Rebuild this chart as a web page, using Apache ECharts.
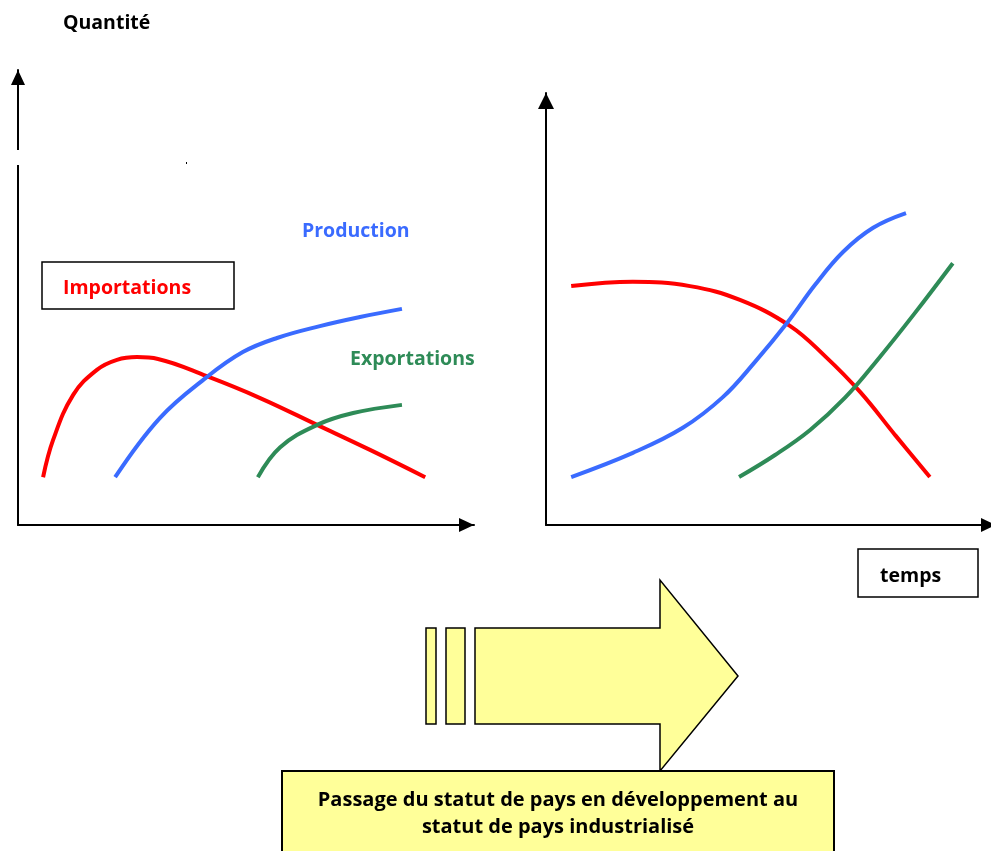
<!DOCTYPE html>
<html>
<head>
    <meta charset="utf-8">
    <script src="https://cdn.jsdelivr.net/npm/echarts@6/dist/echarts.min.js"></script>
    <style>
        html, body { margin: 0; padding: 0; background: #fff; }
        #main { width: 991px; height: 851px; }
    </style>
</head>
<body>
<div id="main"></div>
<script type="text/javascript">
    // panneau gauche : pays en développement  [temps, quantité]
    var importLeft = [[5.5,10.5],[7.7,18.7],[12.1,28.6],[17.3,34.1],[21.7,36.3],[26.1,36.9],[30.7,36.5],
        [41.4,32.7],[53.1,27.9],[65.6,22.0],[77.2,16.5],[89.3,10.5]];
    var prodLeft = [[21.3,10.5],[31.1,23.5],[41.4,32.5],[49.3,38.0],[56.8,41.1],[66.2,43.7],[75.0,45.7],[84.2,47.5]];
    var exportLeft = [[52.6,10.5],[57.5,17.1],[65.6,22.0],[73.5,24.6],[84.2,26.4]];

    // panneau droit : pays industrialisé
    var importRight = [[5.6,55.3],[19.3,56.3],[32.0,55.3],[43.1,52.1],[54.2,46.1],[62.0,39.1],[69.8,30.8],
        [77.6,20.8],[85.3,11.1]];
    var prodRight = [[5.6,11.1],[19.3,16.7],[30.4,22.5],[39.3,29.6],[46.4,37.7],[53.6,46.8],[59.8,55.6],
        [66.0,63.2],[72.7,68.8],[80.0,72.2]];
    var exportRight = [[42.9,11.1],[50.9,16.2],[58.7,22.0],[66.4,29.4],[74.2,38.9],[82.0,49.1],[90.4,60.6]];

    var seriesNames = ['Importations', 'Production', 'Exportations'];
    var colors = ['#ff0000', '#3a6bff', '#2e8b57'];

    var FONT = '"Open Sans", sans-serif';
    var YELLOW = '#ffff99';

    function axis(idx, arrowSize) {
        return {
            type: 'value', gridIndex: idx, min: 0, max: 100,
            axisLine: { show: true, onZero: false, symbol: ['none', 'triangle'], symbolSize: arrowSize,
                symbolOffset: [0, -arrowSize[1] / 2],
                lineStyle: { color: '#000', width: 2 } },
            axisTick: { show: false }, axisLabel: { show: false }, splitLine: { show: false }
        };
    }

    function line(name, data, color, g) {
        return {
            name: name, type: 'line', xAxisIndex: g, yAxisIndex: g,
            data: data, smooth: 0.4, showSymbol: false, silent: true,
            lineStyle: { color: color, width: 4 }
        };
    }

    function label(text, x, y, size, color) {
        return { type: 'text', x: x, y: y, style: { text: text, font: 'bold ' + size + 'px ' + FONT,
            fill: color, verticalAlign: 'middle' } };
    }

    var myChart = echarts.init(document.getElementById('main'));
    var option = {
        animation: false,
        backgroundColor: '#fff',
        grid: [
            { left: 18, top: 70, width: 456, height: 455, outerBoundsMode: 'none' },
            { left: 546, top: 93, width: 450, height: 432, outerBoundsMode: 'none' }
        ],
        xAxis: [axis(0, [14, 15]), axis(1, [14, 15])],
        yAxis: [axis(0, [14, 15]), axis(1, [16, 16])],
        series: [
            line(seriesNames[0], importLeft, colors[0], 0),
            line(seriesNames[1], prodLeft, colors[1], 0),
            line(seriesNames[2], exportLeft, colors[2], 0),
            line(seriesNames[0], importRight, colors[0], 1),
            line(seriesNames[1], prodRight, colors[1], 1),
            line(seriesNames[2], exportRight, colors[2], 1)
        ],
        graphic: [
            // trou dans l'axe vertical gauche
            { type: 'rect', shape: { x: 12, y: 150, width: 12, height: 15 }, style: { fill: '#fff' }, z: 100 },
            { type: 'rect', shape: { x: 186, y: 162, width: 1, height: 2 }, style: { fill: '#000' } },
            label('Quantité', 63, 23, 19.5, '#000'),
            { type: 'rect', shape: { x: 42, y: 262, width: 192, height: 47 },
                style: { fill: '#fff', stroke: '#000', lineWidth: 1.5 } },
            label('Importations', 63, 288, 19.5, colors[0]),
            label('Production', 302, 231, 19.5, colors[1]),
            label('Exportations', 350, 359, 19.5, colors[2]),
            { type: 'rect', shape: { x: 858, y: 549, width: 120, height: 48 },
                style: { fill: '#fff', stroke: '#000', lineWidth: 1.5 } },
            label('temps', 880, 576, 19.5, '#000'),
            // flèche jaune
            { type: 'rect', shape: { x: 426, y: 628, width: 10, height: 96 },
                style: { fill: YELLOW, stroke: '#000', lineWidth: 1.5 } },
            { type: 'rect', shape: { x: 446, y: 628, width: 19, height: 96 },
                style: { fill: YELLOW, stroke: '#000', lineWidth: 1.5 } },
            { type: 'polygon', shape: { points: [[475, 628], [660, 628], [660, 580], [738, 676], [660, 771], [660, 724], [475, 724]] },
                style: { fill: YELLOW, stroke: '#000', lineWidth: 1.5 } },
            { type: 'rect', shape: { x: 282, y: 771, width: 552, height: 90 },
                style: { fill: YELLOW, stroke: '#000', lineWidth: 2 } },
            { type: 'text', x: 558, y: 814, style: {
                text: 'Passage du statut de pays en développement au\nstatut de pays industrialisé',
                font: 'bold 20px ' + FONT, fill: '#000', align: 'center', verticalAlign: 'middle', lineHeight: 27 } }
        ]
    };
    myChart.setOption(option);
</script>
</body>
</html>
